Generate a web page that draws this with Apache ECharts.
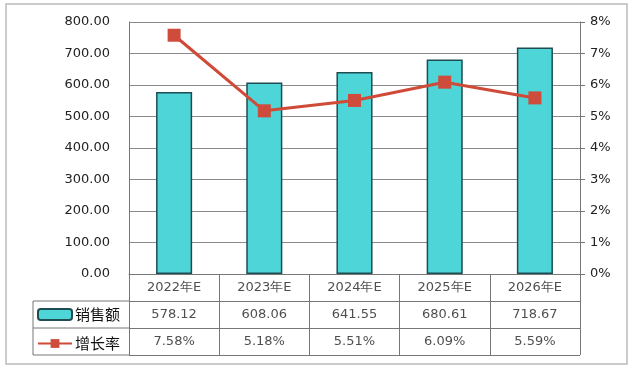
<!DOCTYPE html>
<html><head><meta charset="utf-8">
<script src="https://cdn.jsdelivr.net/npm/echarts@6/dist/echarts.min.js"></script>
<style>html,body{margin:0;padding:0;background:#fff}#c{width:634px;height:373px}</style>
</head><body><div id="c"></div>
<script>
const categories = ['2022年E','2023年E','2024年E','2025年E','2026年E'];
const salesName = '销售额';
const growthName = '增长率';
const salesValues = [578.12, 608.06, 641.55, 680.61, 718.67];
const growthValues = [7.58, 5.18, 5.51, 6.09, 5.59];
const leftTicks = {min: 0, max: 800, interval: 100};
const rightTicks = {min: 0, max: 8, interval: 1};

const font = 'DejaVu Sans, Verdana, sans-serif';
const cjk = '"Noto Sans CJK SC", sans-serif';

const tableData = [];
categories.forEach((c, i) => {
  tableData.push({value: [i, 0], text: c});
  tableData.push({value: [i, 1], text: salesValues[i].toFixed(2)});
  tableData.push({value: [i, 2], text: growthValues[i].toFixed(2) + '%'});
});

const chart = echarts.init(document.getElementById('c'), null, {renderer: 'canvas'});
chart.setOption({
  animation: false,
  backgroundColor: '#fff',
  grid: [
    {left: 129, right: 54, top: 22, bottom: 99},
    {left: 129, right: 54, top: 274, bottom: 18}
  ],
  legend: {
    orient: 'vertical', left: 37, top: 307, itemWidth: 34, itemHeight: 11, itemGap: 14,
    padding: 0,
    textStyle: {fontFamily: cjk, fontSize: 15, color: '#111', padding: [0,0,0,-2]},
    data: [
      {name: salesName, icon: 'roundRect'},
      {name: growthName}
    ]
  },
  xAxis: [
    {type: 'category', gridIndex: 0, data: categories,
     axisLine: {show: true, lineStyle: {color: '#777'}}, axisTick: {show: false},
     axisLabel: {show: false}},
    {type: 'category', gridIndex: 1, data: categories,
     axisLine: {show: false}, axisTick: {show: false}, axisLabel: {show: false},
     splitLine: {show: true, lineStyle: {color: '#777'}}}
  ],
  yAxis: [
    {type: 'value', gridIndex: 0, min: leftTicks.min, max: leftTicks.max, interval: leftTicks.interval,
     axisLine: {show: true, lineStyle: {color: '#777'}}, axisTick: {show: false},
     axisLabel: {formatter: v => v.toFixed(2), color: '#222', fontFamily: font, fontSize: 13, margin: 19},
     splitLine: {lineStyle: {color: '#8a8a8a'}}},
    {type: 'value', gridIndex: 0, position: 'right', min: rightTicks.min, max: rightTicks.max, interval: rightTicks.interval,
     axisLine: {show: true, lineStyle: {color: '#777'}}, axisTick: {show: true, length: 5, lineStyle: {color: '#777'}},
     axisLabel: {formatter: v => v + '%', color: '#222', fontFamily: font, fontSize: 13, margin: 10},
     splitLine: {show: false}},
    {type: 'category', gridIndex: 1, inverse: true, data: ['h', 's', 'g'],
     axisLine: {show: true, lineStyle: {color: '#777'}}, axisTick: {show: false}, axisLabel: {show: false},
     splitLine: {show: true, lineStyle: {color: '#777'}}}
  ],
  series: [
    {name: salesName, type: 'bar', xAxisIndex: 0, yAxisIndex: 0, data: salesValues, barWidth: '40%',
     itemStyle: {color: '#4dd5d8', borderColor: '#1e4d52', borderWidth: 1.5}},
    {name: growthName, type: 'line', xAxisIndex: 0, yAxisIndex: 1, data: growthValues,
     symbol: 'rect', symbolSize: 13,
     lineStyle: {color: '#d04a38', width: 3}, itemStyle: {color: '#cf4b3b'}},
    {type: 'scatter', xAxisIndex: 1, yAxisIndex: 2, data: tableData, symbolSize: 0, silent: true,
     label: {show: true, position: 'inside', formatter: p => p.data.text, color: '#222', fontFamily: font, fontSize: 13}}
  ],
  graphic: [
    {type: 'rect', shape: {x: 6, y: 4, width: 621, height: 360}, style: {fill: 'none', stroke: '#bbb', lineWidth: 1.5}, z: -1},
    {type: 'line', shape: {x1: 33, y1: 301, x2: 129, y2: 301}, style: {stroke: '#777', lineWidth: 1}},
    {type: 'line', shape: {x1: 33, y1: 328, x2: 129, y2: 328}, style: {stroke: '#777', lineWidth: 1}},
    {type: 'line', shape: {x1: 33, y1: 355, x2: 129, y2: 355}, style: {stroke: '#777', lineWidth: 1}},
    {type: 'line', shape: {x1: 33, y1: 301, x2: 33, y2: 355}, style: {stroke: '#777', lineWidth: 1}}
  ]
});
</script></body></html>
